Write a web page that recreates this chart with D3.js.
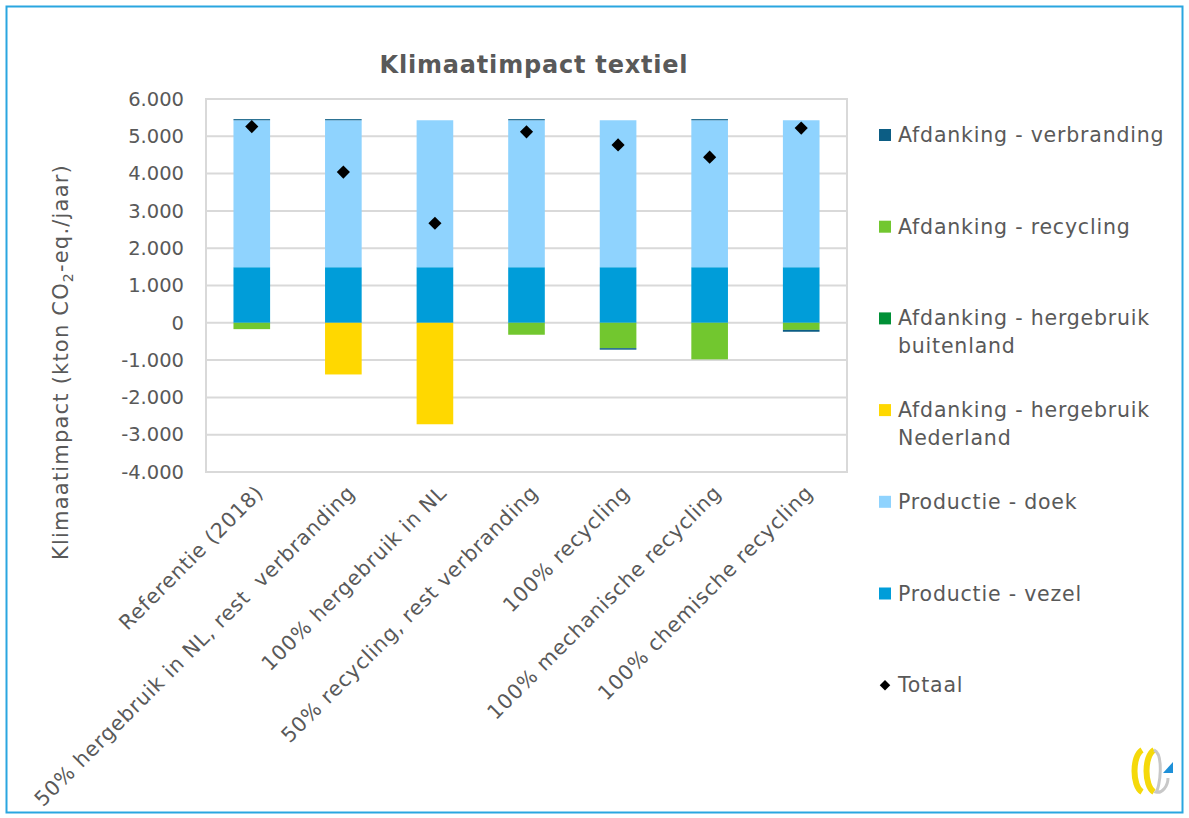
<!DOCTYPE html>
<html>
<head>
<meta charset="utf-8">
<script src="https://cdn.jsdelivr.net/npm/d3@7"></script>
<style>
  body { margin: 0; background: #fff; }
  text { font-family: 'DejaVu Sans', sans-serif; fill: #595959; }
</style>
</head>
<body>
<svg id="chart" width="1189" height="818"></svg>
<script>
// scenarios on the x axis
const categories = [
  'Referentie (2018)',
  '50% hergebruik in NL, rest  verbranding',
  '100% hergebruik in NL',
  '50% recycling, rest verbranding',
  '100% recycling',
  '100% mechanische recycling',
  '100% chemische recycling'
]

// stacked series, bottom first (kton CO2-eq./jaar)
const productieVezel = [1490, 1490, 1490, 1490, 1490, 1490, 1490]
const productieDoek = [3940, 3940, 3940, 3940, 3940, 3940, 3940]
const hergebruikNL = [0, -1385, -2720, 0, 0, 0, 0]
const hergebruikBuitenland = [0, 0, 0, 0, 0, 0, 0]
const recycling = [-170, 0, 0, -320, -680, -980, -190]
const verbranding = [30, 30, 0, 30, -40, 30, -50]
const totaal = [5260, 4040, 2670, 5120, 4770, 4440, 5220]

const yTicks = [-4000, -3000, -2000, -1000, 0, 1000, 2000, 3000, 4000, 5000, 6000]

const series = [
  {key: 'vezel', name: ['Productie - vezel'], values: productieVezel, color: '#009dd9'},
  {key: 'doek', name: ['Productie - doek'], values: productieDoek, color: '#8fd3fe'},
  {key: 'nl', name: ['Afdanking - hergebruik', 'Nederland'], values: hergebruikNL, color: '#ffd800'},
  {key: 'buiten', name: ['Afdanking - hergebruik', 'buitenland'], values: hergebruikBuitenland, color: '#009036'},
  {key: 'recycling', name: ['Afdanking - recycling'], values: recycling, color: '#72c72f'},
  {key: 'verbranding', name: ['Afdanking - verbranding'], values: verbranding, color: '#0c5d84'}
]

const svg = d3.select('#chart')
const plot = {left: 206, right: 847, top: 99, bottom: 472}

// outer frame
svg.append('rect')
  .attr('x', 6.5).attr('y', 6.5)
  .attr('width', 1176).attr('height', 806)
  .attr('fill', 'none')
  .attr('stroke', '#2aa6e0')
  .attr('stroke-width', 2)

const x = d3.scaleBand()
  .domain(categories)
  .range([plot.left, plot.right])
  .paddingInner(0.6)
  .paddingOuter(0.3)

const y = d3.scaleLinear()
  .domain([-4000, 6000])
  .range([plot.bottom, plot.top])

// gridlines
svg.append('g')
  .selectAll('line')
  .data(yTicks)
  .enter().append('line')
  .attr('x1', plot.left).attr('x2', plot.right)
  .attr('y1', d => y(d)).attr('y2', d => y(d))
  .attr('stroke', '#d9d9d9')
  .attr('stroke-width', 2)

// plot border
svg.append('rect')
  .attr('x', plot.left).attr('y', plot.top)
  .attr('width', plot.right - plot.left).attr('height', plot.bottom - plot.top)
  .attr('fill', 'none')
  .attr('stroke', '#d9d9d9')
  .attr('stroke-width', 2)

// y axis labels (dutch thousands separator, plain hyphen)
const fmt = v => v === 0 ? '0' : d3.format(',')(v).replace(/,/g, '.').replace('\u2212', '-')
const yAxis = svg.append('g')
  .attr('transform', `translate(${plot.left - 22},0)`)
  .call(d3.axisLeft(y).tickValues(yTicks).tickFormat(fmt).tickSize(0).tickPadding(0))
yAxis.select('.domain').remove()
yAxis.selectAll('text')
  .attr('font-size', 19.5)
  .attr('font-family', "'DejaVu Sans', sans-serif")
  .attr('fill', '#595959')

// stacked bars
const rows = categories.map((c, i) => {
  const row = {cat: c}
  series.forEach(s => { row[s.key] = s.values[i] })
  return row
})
const stack = d3.stack()
  .keys(series.map(s => s.key))
  .offset(d3.stackOffsetDiverging)
const stacked = stack(rows)

svg.append('g')
  .selectAll('g')
  .data(stacked)
  .enter().append('g')
  .attr('fill', (d, i) => series[i].color)
  .selectAll('rect')
  .data(d => d.filter(p => p[1] !== p[0]))
  .enter().append('rect')
  .attr('x', d => x(d.data.cat))
  .attr('width', x.bandwidth())
  .attr('y', d => y(Math.max(d[0], d[1])))
  .attr('height', d => Math.abs(y(d[0]) - y(d[1])))

// totaal markers
const diamond = d3.symbol().type(d3.symbolDiamond2).size(110)
svg.append('g')
  .selectAll('path')
  .data(totaal)
  .enter().append('path')
  .attr('d', diamond)
  .attr('transform', (d, i) => `translate(${x(categories[i]) + x.bandwidth() / 2},${y(d)})`)
  .attr('fill', '#000')

// category labels
svg.append('g')
  .selectAll('text')
  .data(categories)
  .enter().append('text')
  .attr('transform', d => `translate(${x(d) + x.bandwidth() / 2 + 13},${plot.bottom + 22}) rotate(-45)`)
  .attr('text-anchor', 'end')
  .attr('font-size', 20.5)
  .attr('letter-spacing', 0.8)
  .style('white-space', 'pre')
  .text(d => d)

// title
svg.append('text')
  .attr('x', 534).attr('y', 73)
  .attr('text-anchor', 'middle')
  .attr('font-size', 24)
  .attr('font-weight', 'bold')
  .attr('letter-spacing', 0.8)
  .text('Klimaatimpact textiel')

// y axis title
const yTitle = svg.append('text')
  .attr('transform', 'translate(68,362) rotate(-90)')
  .attr('text-anchor', 'middle')
  .attr('font-size', 21)
  .attr('letter-spacing', 1.2)
yTitle.append('tspan').text('Klimaatimpact (kton CO')
yTitle.append('tspan').attr('font-size', 14).attr('dy', 5).text('2')
yTitle.append('tspan').attr('dy', -5).text('-eq./jaar)')

// legend, top entry first
const legendItems = series.slice().reverse()
const legend = svg.append('g')
legendItems.forEach((s, i) => {
  const cy = 135 + i * 91.7
  legend.append('rect')
    .attr('x', 879).attr('y', cy - 6)
    .attr('width', 12).attr('height', 12)
    .attr('fill', s.color)
  s.name.forEach((line, j) => {
    legend.append('text')
      .attr('x', 898).attr('y', cy + 7 + j * 28)
      .attr('font-size', 20.5)
      .attr('letter-spacing', 0.8)
      .text(line)
  })
})
const totaalY = 135 + legendItems.length * 91.7
legend.append('path')
  .attr('d', d3.symbol().type(d3.symbolDiamond2).size(70))
  .attr('transform', `translate(885,${totaalY})`)
  .attr('fill', '#000')
legend.append('text')
  .attr('x', 898).attr('y', totaalY + 7)
  .attr('font-size', 20.5)
  .attr('letter-spacing', 0.8)
  .text('Totaal')

// small logo, bottom right
const logo = svg.append('g').attr('transform', 'translate(1130,748)')
logo.append('path')
  .attr('d', 'M12,2 C2,8 2,38 12,44')
  .attr('fill', 'none').attr('stroke', '#f5d90a').attr('stroke-width', 6)
logo.append('path')
  .attr('d', 'M24,2 C14,8 14,38 24,44')
  .attr('fill', 'none').attr('stroke', '#f5d90a').attr('stroke-width', 6)
logo.append('path')
  .attr('d', 'M24,2 C34,6 30,40 26,44 C32,46 38,38 38,30')
  .attr('fill', 'none').attr('stroke', '#c8c8c8').attr('stroke-width', 3)
logo.append('path')
  .attr('d', 'M33,25 L43,14 L43,25 Z')
  .attr('fill', '#1e90d8')
</script>
</body>
</html>
